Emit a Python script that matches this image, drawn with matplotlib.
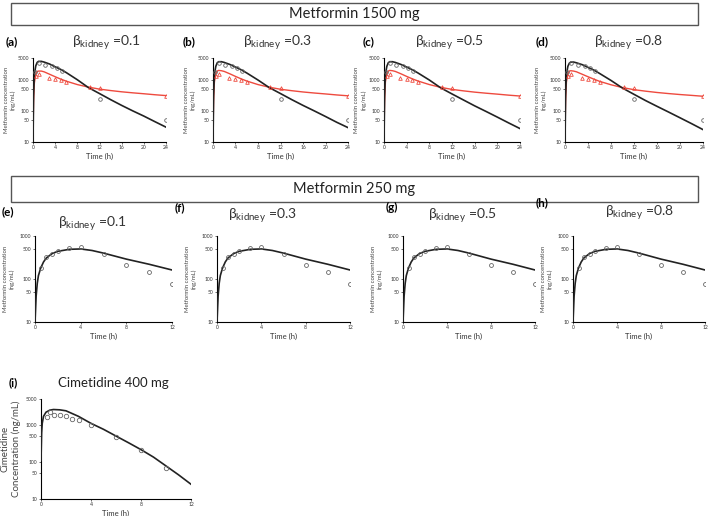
import matplotlib
matplotlib.use('Agg')
import matplotlib.pyplot as plt
from matplotlib.patches import Rectangle

plt.rcParams['font.family'] = ['Lato', 'DejaVu Sans']
plt.rcParams['mathtext.fontset'] = 'custom'
plt.rcParams['mathtext.rm'] = 'Lato'
plt.rcParams['mathtext.fallback'] = 'stixsans'

# ---- data ----
# metformin 1500 mg, observed
obs1500_t_black = [0.4, 1.1, 2.2, 3.4, 4.3, 5.2, 12, 24]
obs1500_c_black = [1800, 3400, 3000, 2700, 2300, 1900, 240, 50]
obs1500_t_red = [0.5, 1.1, 2.9, 4.0, 5.0, 6.0, 10.2, 12, 24]
obs1500_c_red = [1300, 1550, 1170, 1060, 1000, 870, 570, 560, 310]

# simulated curves (same time grid for all four panels)
sim1500_t = [0, 0.1, 0.25, 0.5, 0.75, 1, 1.5, 2, 3, 4, 5, 6, 8, 10, 12, 14, 16, 18, 20, 22, 24]
sim1500_black = {
    'a': [10, 300, 1500, 2800, 3600, 3900, 3900, 3700, 3200, 2600, 2150, 1700, 1000, 560, 360, 230, 150, 100, 68, 45, 30],
    'b': [10, 300, 1500, 2700, 3500, 3800, 3800, 3600, 3100, 2550, 2100, 1650, 980, 560, 360, 230, 150, 100, 66, 43, 29],
    'c': [10, 300, 1500, 2700, 3500, 3800, 3800, 3600, 3100, 2550, 2100, 1650, 980, 550, 350, 225, 145, 96, 63, 41, 27],
    'd': [10, 300, 1500, 2700, 3400, 3700, 3700, 3500, 3050, 2500, 2050, 1600, 950, 540, 340, 215, 140, 92, 60, 39, 25],
}
sim1500_red = {
    'a': [20, 200, 800, 1500, 1850, 1900, 1900, 1800, 1500, 1250, 1050, 900, 700, 580, 500, 450, 410, 380, 355, 330, 310],
    'b': [20, 200, 850, 1550, 1900, 2000, 1950, 1850, 1550, 1280, 1070, 910, 700, 575, 495, 445, 405, 375, 350, 325, 305],
    'c': [20, 200, 850, 1550, 1900, 2000, 1950, 1850, 1550, 1280, 1070, 910, 700, 570, 490, 440, 400, 370, 345, 320, 300],
    'd': [20, 200, 850, 1550, 1900, 1950, 1900, 1800, 1500, 1250, 1050, 890, 690, 560, 480, 430, 390, 360, 335, 315, 295],
}
betas = ['0.1', '0.3', '0.5', '0.8']

# metformin 250 mg
obs250_t = [0.5, 1.0, 1.5, 2.0, 3.0, 4.0, 6.0, 8.0, 10.0, 12.0]
obs250_c = [178, 318, 380, 450, 535, 550, 380, 210, 145, 77]
sim250_t = [0, 0.05, 0.1, 0.2, 0.3, 0.5, 0.75, 1, 1.5, 2, 3, 4, 5, 6, 8, 10, 12]
sim250_c = [10, 20, 40, 80, 120, 180, 250, 310, 390, 440, 490, 500, 460, 400, 290, 220, 162]

# cimetidine 400 mg
cim_obs_t = [0.45, 0.72, 1.0, 1.5, 2.0, 2.5, 3.0, 4.0, 6.0, 8.0, 10.0]
cim_obs_c = [1590, 2200, 1870, 1800, 1750, 1480, 1370, 1000, 480, 210, 70]
cim_sim_t = [0, 0.05, 0.1, 0.2, 0.4, 0.7, 1, 1.5, 2, 3, 4, 5, 6, 7, 8, 9, 10, 11, 12]
cim_sim_c = [110, 600, 1100, 1700, 2200, 2500, 2600, 2550, 2400, 1700, 1100, 760, 500, 330, 215, 135, 78, 45, 25]

RED = '#ee4a3e'
W, H = 709, 516


def px_axes(fig, x0, x1, y0, y1):
    # axes from pixel box (top-left origin)
    return fig.add_axes([x0 / W, 1 - y1 / H, (x1 - x0) / W, (y1 - y0) / H])


def style_axis(ax, xmax, xticks, ymax, yticks, ylabel, ylab_fs=4.3, ylab_x=-0.2):
    ax.set_yscale('log')
    ax.set_xlim(0, xmax)
    ax.set_ylim(10, ymax)
    ax.set_xticks(xticks)
    ax.set_xticklabels([str(t) for t in xticks])
    ax.set_yticks(yticks)
    ax.set_yticklabels([str(t) for t in yticks])
    ax.yaxis.set_minor_locator(matplotlib.ticker.NullLocator())
    ax.tick_params(labelsize=3.6, length=1.5, width=0.5, pad=1, colors='#333333')
    for s in ['top', 'right']:
        ax.spines[s].set_visible(False)
    for s in ['left', 'bottom']:
        ax.spines[s].set_linewidth(0.8)
    ax.set_xlabel('Time (h)', fontsize=5.5, labelpad=1.5, color='#333333')
    ax.set_ylabel(ylabel, fontsize=ylab_fs, color='#444444', linespacing=1.3)
    ax.yaxis.set_label_coords(ylab_x, 0.5)


def fig_text(fig, x, y, s, **kw):
    fig.text(x / W, 1 - y / H, s, **kw)


fig = plt.figure(figsize=(7.09, 5.16), dpi=100)

# header boxes
for y0, y1, label in [(3, 25, 'Metformin 1500 mg'), (176, 202, 'Metformin 250 mg')]:
    fig.patches.append(Rectangle((11 / W, 1 - y1 / H), (698 - 11) / W, (y1 - y0) / H,
                                 transform=fig.transFigure, fill=False, edgecolor='#555555', linewidth=1.0))
    fig_text(fig, 354, (y0 + y1) / 2, label, fontsize=10.5, ha='center', va='center', color='#222222')

ylab = 'Metformin concentration\n(ng/mL)'

# row 1: metformin 1500 mg
row1_x = [(33, 166), (213, 348), (384, 520), (565, 703)]
row1_lab = [(12, 'a', 106), (189, 'b', 277), (369, 'c', 449), (542, 'd', 628)]
for i, key in enumerate(['a', 'b', 'c', 'd']):
    x0, x1 = row1_x[i]
    ax = px_axes(fig, x0, x1, 58, 142)
    ax.plot(sim1500_t, sim1500_black[key], color='#222222', lw=1.2, zorder=3)
    ax.plot(sim1500_t, sim1500_red[key], color=RED, lw=1.0, zorder=2)
    ax.plot(obs1500_t_black, obs1500_c_black, 'o', mfc='none', mec='#666666', ms=2.6, mew=0.6, zorder=4)
    ax.plot(obs1500_t_red, obs1500_c_red, '^', mfc='none', mec=RED, ms=2.6, mew=0.6, zorder=4)
    style_axis(ax, 24, [0, 4, 8, 12, 16, 20, 24], 5000, [10, 50, 100, 500, 1000, 5000], ylab, ylab_x=-0.13)
    lx, letter, tx = row1_lab[i]
    fig_text(fig, lx, 42, '(' + letter + ')', fontsize=8.5, fontweight='bold', ha='center', va='center')
    fig_text(fig, tx, 42, r'$\mathrm{\beta}_{\mathrm{kidney}}$ =' + betas[i], fontsize=10,
             ha='center', va='center', color='#333333')

# row 2: metformin 250 mg
row2_x = [(35, 172), (217, 350), (403, 535), (573, 705)]
row2_lab = [(8, 'e', 212, 92, 223), (180, 'f', 208, 262, 215), (392, 'g', 207, 462, 215), (542, 'h', 203, 639, 212)]
for i in range(4):
    x0, x1 = row2_x[i]
    ax = px_axes(fig, x0, x1, 236, 322)
    ax.plot(sim250_t, sim250_c, color='#222222', lw=1.2, zorder=3)
    ax.plot(obs250_t, obs250_c, 'o', mfc='none', mec='#666666', ms=2.8, mew=0.6, zorder=4)
    style_axis(ax, 12, [0, 4, 8, 12], 1000, [10, 50, 100, 500, 1000], ylab, ylab_x=-0.15)
    lx, letter, ly, tx, ty = row2_lab[i]
    fig_text(fig, lx, ly, '(' + letter + ')', fontsize=8.5, fontweight='bold', ha='center', va='center')
    fig_text(fig, tx, ty, r'$\mathrm{\beta}_{\mathrm{kidney}}$ =' + betas[i], fontsize=10,
             ha='center', va='center', color='#333333')

# panel i: cimetidine
ax = px_axes(fig, 41, 191, 399, 499)
ax.plot(cim_sim_t, cim_sim_c, color='#222222', lw=1.2, zorder=3)
ax.plot(cim_obs_t, cim_obs_c, 'o', mfc='none', mec='#666666', ms=3.2, mew=0.6, zorder=4)
style_axis(ax, 12, [0, 4, 8, 12], 5000, [10, 50, 100, 500, 1000, 5000],
           'Cimetidine\nConcentration (ng/mL)', ylab_fs=7, ylab_x=-0.13)
fig_text(fig, 13, 383, '(i)', fontsize=8.5, fontweight='bold', ha='center', va='center')
fig_text(fig, 113, 383, 'Cimetidine 400 mg', fontsize=9.5, ha='center', va='center', color='#222222')

fig.savefig('out.png', dpi=100)
